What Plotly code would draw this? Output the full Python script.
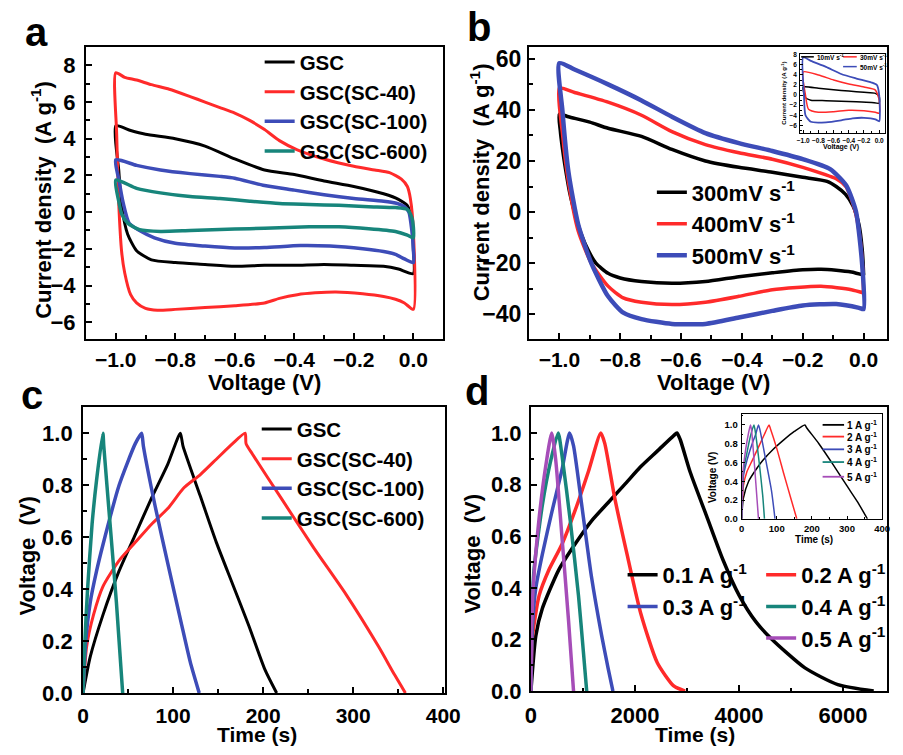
import plotly.graph_objects as go

F = "Liberation Sans, Arial, sans-serif"
BLACK = "#000000"
RED = "#ff2a2a"
BLUE = "#3d4cb8"
TEAL = "#17857b"
PURPLE = "#a64db8"

# ---------------- Panel a : CV of GSC samples ----------------
a_labels = ["GSC", "GSC(SC-40)", "GSC(SC-100)", "GSC(SC-600)"]
a_v_gsc = [-1.0, -0.95, -0.9, -0.8, -0.7, -0.6, -0.5, -0.4, -0.3, -0.2, -0.1, -0.05, -0.02, -0.005, 0.0,
           0.0, -0.05, -0.1, -0.2, -0.3, -0.4, -0.5, -0.6, -0.7, -0.8, -0.88, -0.93, -0.96, -0.98, -0.99, -1.0]
a_i_gsc = [4.7, 4.45, 4.25, 4.0, 3.6, 2.9, 2.3, 2.05, 1.7, 1.4, 1.0, 0.7, 0.35, -0.5, -2.0,
           -3.35, -3.1, -2.95, -2.9, -2.85, -2.9, -2.9, -2.95, -2.85, -2.75, -2.6, -2.1, -1.2, 0.3, 2.3, 4.7]
a_v_sc40 = [-1.0, -0.97, -0.93, -0.88, -0.82, -0.75, -0.7, -0.65, -0.6, -0.55, -0.5, -0.45, -0.39, -0.3, -0.2,
            -0.13, -0.08, -0.04, -0.02, -0.01, 0.0, 0.0, -0.03, -0.06, -0.1, -0.17, -0.26, -0.33, -0.39, -0.45,
            -0.5, -0.6, -0.7, -0.8, -0.86, -0.9, -0.93, -0.95, -0.97, -0.98, -0.99, -0.997, -1.0]
a_i_sc40 = [7.6, 7.35, 7.2, 6.95, 6.7, 6.3, 6.0, 5.7, 5.4, 5.0, 4.5, 3.9, 3.4, 2.9, 2.5,
            2.3, 2.15, 1.8, 1.4, 0.75, -1.0, -5.3, -4.95, -4.75, -4.6, -4.45, -4.35, -4.4, -4.5, -4.7,
            -4.95, -5.1, -5.2, -5.3, -5.35, -5.25, -4.95, -4.5, -3.3, -2.2, 0.5, 4.3, 7.6]
a_v_sc100 = [-1.0, -0.93, -0.85, -0.75, -0.65, -0.6, -0.5, -0.4, -0.3, -0.2, -0.1, -0.06, -0.03, -0.015, -0.005,
             0.0, 0.0, -0.03, -0.06, -0.1, -0.17, -0.28, -0.38, -0.5, -0.6, -0.7, -0.8, -0.87, -0.92, -0.955,
             -0.975, -0.99, -1.0]
a_i_sc100 = [2.85, 2.55, 2.3, 2.1, 1.95, 1.85, 1.45, 1.2, 0.95, 0.75, 0.6, 0.5, 0.3, 0.0, -1.0,
             -2.0, -2.75, -2.55, -2.3, -2.15, -2.0, -1.85, -1.82, -1.93, -1.95, -1.85, -1.7, -1.4, -1.0, -0.6,
             0.5, 1.8, 2.85]
a_v_sc600 = [-1.0, -0.93, -0.85, -0.75, -0.65, -0.55, -0.45, -0.35, -0.25, -0.15, -0.06, -0.02, -0.005, 0.0,
             0.0, -0.02, -0.06, -0.15, -0.25, -0.35, -0.45, -0.55, -0.65, -0.75, -0.85, -0.92, -0.96, -0.98,
             -0.99, -1.0]
a_i_sc600 = [1.75, 1.3, 1.05, 0.85, 0.75, 0.6, 0.47, 0.42, 0.37, 0.3, 0.25, 0.15, -0.3, -0.8,
             -1.4, -1.25, -1.05, -0.9, -0.8, -0.8, -0.85, -0.9, -0.95, -1.0, -1.05, -0.95, -0.6, -0.1,
             0.6, 1.75]

# ---------------- Panel b : CV at high scan rates ----------------
b_labels = ["300mV s<sup>-1</sup>", "400mV s<sup>-1</sup>", "500mV s<sup>-1</sup>"]
b_v_300 = [-1.0, -0.97, -0.9, -0.84, -0.73, -0.63, -0.52, -0.41, -0.3, -0.2, -0.12, -0.09, -0.06, -0.035,
           -0.015, -0.005, 0.0, 0.0, -0.04, -0.09, -0.14, -0.2, -0.3, -0.41, -0.52, -0.63, -0.73, -0.8, -0.84,
           -0.88, -0.905, -0.93, -0.948, -0.965, -0.98, -0.99, -0.997, -1.0]
b_i_300 = [38.3, 37.3, 35.2, 32.8, 29.6, 24.5, 20.0, 17.5, 15.6, 13.6, 12.0, 10.0, 7.0, 2.5,
           -5.0, -14.0, -24.0, -24.5, -23.5, -22.8, -22.4, -22.6, -23.8, -25.3, -27.2, -27.9, -27.2, -25.8, -24.0,
           -20.0, -15.0, -8.0, -1.0, 7.0, 17.0, 25.0, 32.0, 38.3]
b_v_400 = [-1.0, -0.95, -0.84, -0.73, -0.63, -0.52, -0.41, -0.3, -0.2, -0.09, -0.057, -0.04, -0.025, -0.01,
           -0.003, 0.0, 0.0, -0.04, -0.14, -0.3, -0.41, -0.52, -0.63, -0.73, -0.79, -0.84, -0.895, -0.938, -0.97,
           -0.99, -1.0]
b_i_400 = [48.5, 46.8, 43.0, 37.9, 31.5, 26.4, 23.2, 20.7, 17.5, 13.0, 9.8, 5.0, -1.0, -12.0,
           -22.0, -31.7, -31.7, -30.4, -29.1, -30.4, -33.0, -35.3, -36.2, -35.3, -33.6, -29.0, -20.0, -7.4, 11.7,
           31.0, 48.5]
b_v_500 = [-1.0, -0.95, -0.84, -0.73, -0.63, -0.52, -0.41, -0.3, -0.2, -0.11, -0.057, -0.025, -0.005, 0.0,
           -0.015, -0.09, -0.2, -0.3, -0.41, -0.52, -0.63, -0.73, -0.79, -0.84, -0.895, -0.938, -0.97, -0.99, -1.0]
b_i_500 = [58.3, 55.8, 50.0, 43.7, 37.3, 30.9, 27.0, 23.9, 20.7, 16.8, 10.4, 0.2, -20.0, -38.0,
           -37.5, -36.0, -36.6, -38.7, -41.3, -43.8, -43.8, -41.9, -39.4, -33.0, -20.0, -4.9, 15.6, 39.8, 58.3]

# inset of b : low scan rates
bi_labels = ["10mV s<sup>-1</sup>", "30mV s<sup>-1</sup>", "50mV s<sup>-1</sup>"]
bi_v_10 = [-1.0, -0.8, -0.6, -0.4, -0.2, -0.05, 0.0, 0.0, -0.1, -0.3, -0.5, -0.7, -0.9, -0.97, -1.0]
bi_i_10 = [1.6, 1.35, 1.05, 0.8, 0.55, 0.35, -0.3, -1.6, -1.45, -1.3, -1.2, -1.1, -1.0, -0.5, 1.6]
bi_v_30 = [-1.0, -0.8, -0.6, -0.4, -0.2, -0.05, 0.0, 0.0, -0.05, -0.2, -0.4, -0.6, -0.8, -0.93, -0.97, -1.0]
bi_i_30 = [4.6, 4.0, 3.0, 2.2, 1.6, 1.0, -1.0, -3.6, -3.4, -3.1, -3.0, -3.3, -3.4, -2.8, 0.0, 4.6]
bi_v_50 = [-1.0, -0.9, -0.7, -0.5, -0.3, -0.1, -0.03, 0.0, 0.0, -0.05, -0.2, -0.35, -0.5, -0.7, -0.9, -0.97,
           -0.99, -1.0]
bi_i_50 = [7.5, 6.8, 5.6, 4.2, 3.3, 2.5, 2.0, 0.0, -5.2, -4.8, -4.5, -4.6, -5.0, -5.4, -5.3, -4.0, 0.0, 7.5]

# ---------------- Panel c : GCD of GSC samples ----------------
c_t_gsc = [0, 8, 22, 40, 58, 76, 94, 108, 111, 130, 148, 166, 184, 202, 215]
c_u_gsc = [0.0, 0.14, 0.3, 0.47, 0.61, 0.75, 0.88, 1.0, 0.95, 0.76, 0.58, 0.42, 0.26, 0.09, 0.0]
c_t_sc40 = [0, 4, 11.5, 22, 40, 58, 76, 94, 112, 130, 148, 166, 180, 181, 188, 220, 256, 292, 328, 346, 358]
c_u_sc40 = [0.0, 0.18, 0.3, 0.41, 0.51, 0.58, 0.65, 0.71, 0.79, 0.84, 0.9, 0.96, 1.0, 0.96, 0.92, 0.75, 0.56,
            0.38, 0.18, 0.07, 0.0]
c_t_sc100 = [0, 3, 8, 15, 22, 40, 58, 65, 67, 80, 94, 109, 119, 129]
c_u_sc100 = [0.0, 0.2, 0.35, 0.47, 0.57, 0.8, 0.96, 1.0, 0.95, 0.72, 0.5, 0.27, 0.12, 0.0]
c_t_sc600 = [0, 2, 5, 10, 15, 22, 23, 30, 37, 44]
c_u_sc600 = [0.0, 0.2, 0.4, 0.65, 0.82, 1.0, 0.95, 0.65, 0.35, 0.0]

# ---------------- Panel d : GCD at different current densities ----------------
d_labels = ["0.1 A g<sup>-1</sup>", "0.2 A g<sup>-1</sup>", "0.3 A g<sup>-1</sup>",
            "0.4 A g<sup>-1</sup>", "0.5 A g<sup>-1</sup>"]
d_t_01 = [0, 95, 220, 536, 850, 1167, 1483, 1800, 2114, 2430, 2745, 2808, 2870, 3060, 3375, 3690, 4006,
          4320, 4637, 5268, 5900, 6590]
d_u_01 = [0.0, 0.215, 0.32, 0.47, 0.57, 0.66, 0.73, 0.8, 0.87, 0.93, 0.99, 1.0, 0.975, 0.85, 0.68, 0.51, 0.37,
          0.27, 0.2, 0.09, 0.025, 0.0]
d_t_02 = [0, 30, 158, 347, 600, 850, 1104, 1344, 1420, 1610, 1860, 2114, 2430, 2745, 2965]
d_u_02 = [0.0, 0.21, 0.37, 0.47, 0.57, 0.7, 0.85, 1.0, 0.96, 0.75, 0.52, 0.3, 0.11, 0.02, 0.0]
d_t_03 = [0, 30, 95, 220, 410, 600, 744, 820, 978, 1167, 1356, 1483, 1577]
d_u_03 = [0.0, 0.25, 0.4, 0.53, 0.7, 0.86, 1.0, 0.95, 0.72, 0.44, 0.22, 0.09, 0.0]
d_t_04 = [0, 20, 60, 220, 378, 524, 600, 757, 915, 1010, 1073]
d_u_04 = [0.0, 0.3, 0.47, 0.72, 0.89, 1.0, 0.91, 0.66, 0.37, 0.15, 0.0]
d_t_05 = [0, 15, 44, 158, 284, 400, 475, 600, 725, 820]
d_u_05 = [0.0, 0.25, 0.4, 0.67, 0.87, 1.0, 0.9, 0.59, 0.27, 0.0]

# inset of d : 1-5 A g-1
di_labels = ["1 A g<sup>-1</sup>", "2 A g<sup>-1</sup>", "3 A g<sup>-1</sup>",
             "4 A g<sup>-1</sup>", "5 A g<sup>-1</sup>"]
di_t_1 = [0, 5, 20, 40, 60, 90, 120, 150, 180, 185, 220, 260, 300, 330, 358]
di_u_1 = [0.0, 0.22, 0.4, 0.52, 0.62, 0.74, 0.84, 0.93, 1.0, 0.97, 0.8, 0.58, 0.35, 0.18, 0.0]
di_t_2 = [0, 5, 15, 30, 50, 65, 78, 82, 100, 120, 140, 157]
di_u_2 = [0.0, 0.35, 0.5, 0.62, 0.78, 0.9, 1.0, 0.96, 0.75, 0.48, 0.22, 0.0]
di_t_3 = [0, 5, 15, 30, 40, 48, 52, 70, 85, 95]
di_u_3 = [0.0, 0.45, 0.62, 0.8, 0.9, 1.0, 0.95, 0.6, 0.3, 0.0]
di_t_4 = [0, 5, 15, 25, 35, 38, 50, 60, 65]
di_u_4 = [0.0, 0.5, 0.7, 0.88, 1.0, 0.95, 0.6, 0.25, 0.0]
di_t_5 = [0, 4, 12, 20, 25, 28, 37, 44, 48]
di_u_5 = [0.0, 0.5, 0.75, 0.92, 1.0, 0.95, 0.55, 0.2, 0.0]

W, H = 903, 755


def px(x):
    return x / W


def py(y):
    return 1 - y / H


fig = go.Figure()


def add(x, y, name, color, xa, ya, legend, width=3.0, showlegend=True):
    fig.add_trace(go.Scatter(x=x, y=y, name=name, mode="lines",
                             line=dict(color=color, width=width, shape="spline", smoothing=0.6),
                             xaxis=xa, yaxis=ya, legend=legend, showlegend=showlegend))


# panel a
add(a_v_gsc, a_i_gsc, a_labels[0], BLACK, "x", "y", "legend", 3)
add(a_v_sc40, a_i_sc40, a_labels[1], RED, "x", "y", "legend", 3)
add(a_v_sc100, a_i_sc100, a_labels[2], BLUE, "x", "y", "legend", 3.5)
add(a_v_sc600, a_i_sc600, a_labels[3], TEAL, "x", "y", "legend", 3.5)
# panel b
add(b_v_300, b_i_300, b_labels[0], BLACK, "x2", "y2", "legend2", 3.5)
add(b_v_400, b_i_400, b_labels[1], RED, "x2", "y2", "legend2", 3.5)
add(b_v_500, b_i_500, b_labels[2], BLUE, "x2", "y2", "legend2", 4.5)
# inset b (legend drawn as small key below)
bi_colors = [BLACK, RED, BLUE]
add(bi_v_10, bi_i_10, bi_labels[0], bi_colors[0], "x5", "y5", "legend", 1.5, False)
add(bi_v_30, bi_i_30, bi_labels[1], bi_colors[1], "x5", "y5", "legend", 1.5, False)
add(bi_v_50, bi_i_50, bi_labels[2], bi_colors[2], "x5", "y5", "legend", 1.8, False)
# panel c
add(c_t_gsc, c_u_gsc, a_labels[0], BLACK, "x3", "y3", "legend3", 3)
add(c_t_sc40, c_u_sc40, a_labels[1], RED, "x3", "y3", "legend3", 3)
add(c_t_sc100, c_u_sc100, a_labels[2], BLUE, "x3", "y3", "legend3", 3.5)
add(c_t_sc600, c_u_sc600, a_labels[3], TEAL, "x3", "y3", "legend3", 3.5)
# panel d
add(d_t_01, d_u_01, d_labels[0], BLACK, "x4", "y4", "legend4", 3.5)
add(d_t_02, d_u_02, d_labels[1], RED, "x4", "y4", "legend5", 3.5)
add(d_t_03, d_u_03, d_labels[2], BLUE, "x4", "y4", "legend4", 3.5)
add(d_t_04, d_u_04, d_labels[3], TEAL, "x4", "y4", "legend5", 3.5)
add(d_t_05, d_u_05, d_labels[4], PURPLE, "x4", "y4", "legend5", 3.5)
# inset d (legend drawn as small key below)
di_colors = [BLACK, RED, BLUE, TEAL, PURPLE]
add(di_t_1, di_u_1, di_labels[0], di_colors[0], "x6", "y6", "legend", 1.5, False)
add(di_t_2, di_u_2, di_labels[1], di_colors[1], "x6", "y6", "legend", 1.5, False)
add(di_t_3, di_u_3, di_labels[2], di_colors[2], "x6", "y6", "legend", 1.5, False)
add(di_t_4, di_u_4, di_labels[3], di_colors[3], "x6", "y6", "legend", 1.5, False)
add(di_t_5, di_u_5, di_labels[4], di_colors[4], "x6", "y6", "legend", 1.5, False)


def axis(domain, rng, dtick, minor_dtick, anchor, fs=21, lw=2, tl=6, stand=6, fmt=None):
    d = dict(domain=domain, range=rng, dtick=dtick, tick0=0, anchor=anchor,
             showline=True, linecolor="black", linewidth=lw, mirror=True,
             ticks="inside", ticklen=tl, tickwidth=lw, tickcolor="black",
             showgrid=False, zeroline=False, ticklabelstandoff=stand, tickangle=0,
             tickfont=dict(family=F, size=fs, color="black", weight="bold"),
             minor=dict(ticks="inside", ticklen=tl * 0.6, tickwidth=lw * 0.8, tickcolor="black",
                        dtick=minor_dtick, showgrid=False))
    if fmt:
        d["tickformat"] = fmt
    return d


fig.update_layout(
    width=W, height=H, margin=dict(l=0, r=0, t=0, b=0),
    paper_bgcolor="white", plot_bgcolor="rgba(0,0,0,0)",
    font=dict(family=F, color="black", weight="bold"),
    xaxis=axis([px(82), px(448)], [-1.1, 0.1], 0.2, 0.1, "y", fs=21, stand=1, fmt=".1f"),
    yaxis=axis([py(343), py(45)], [-6.9, 9.0], 2, 1, "x", fs=22, stand=4),
    xaxis2=axis([px(536), 1.0], [-1.1, 0.077], 0.2, 0.1, "y2", fs=21, stand=1, fmt=".1f"),
    yaxis2=axis([py(343), py(45)], [-49.6, 64.6], 20, 10, "x2", fs=23, stand=1),
    xaxis3=axis([px(79), px(450)], [0, 402], 100, 50, "y3", fs=21, stand=3),
    yaxis3=axis([py(705), py(413)], [0, 1.1], 0.2, 0.1, "x3", fs=22, stand=4, fmt=".1f"),
    xaxis4=axis([px(538), 1.0], [0, 6846], 2000, 1000, "y4", fs=22, stand=3),
    yaxis4=axis([py(703), py(413)], [0, 1.1], 0.2, 0.1, "x4", fs=22, stand=3, fmt=".1f"),
    xaxis5=axis([px(814), px(901)], [-1.04, 0.077], 0.2, 0.1, "y5", fs=6.5, lw=1, tl=3, stand=1, fmt=".1f"),
    yaxis5=axis([py(133), py(52)], [-7.56, 8.19], 2, 1, "x5", fs=6.5, lw=1, tl=3, stand=1),
    xaxis6=axis([px(754), px(898)], [0, 400], 100, 50, "y6", fs=9.5, lw=1, tl=3, stand=1),
    yaxis6=axis([py(527), py(420)], [0, 1.115], 0.2, 0.1, "x6", fs=9.5, lw=1, tl=3, stand=1, fmt=".1f"),
)

leg_common = dict(bgcolor="rgba(0,0,0,0)", borderwidth=0, xanchor="left", yanchor="top",
                  orientation="v", tracegroupgap=0, itemclick=False)
fig.update_layout(
    legend=dict(x=px(260), y=py(40), font=dict(family=F, size=20.5, weight="bold"), **leg_common),
    legend2=dict(x=px(662), y=py(172), font=dict(family=F, size=22, weight="bold"), **leg_common),
    legend3=dict(x=px(257), y=py(415), font=dict(family=F, size=20.5, weight="bold"), **leg_common),
    legend4=dict(x=px(632), y=py(563), font=dict(family=F, size=22, weight="bold"), **leg_common),
    legend5=dict(x=px(774), y=py(563), font=dict(family=F, size=22, weight="bold"), **leg_common),
)

ann = []
shapes = []


def text(x, y, s, size, angle=0, anchor="center"):
    ann.append(dict(x=px(x), y=py(y), xref="paper", yref="paper", text=s, showarrow=False,
                    textangle=angle, xanchor=anchor, yanchor="middle",
                    font=dict(family=F, size=size, color="black", weight="bold")))


def key(x0, x1, y, color, label, size, lw):
    shapes.append(dict(type="line", xref="paper", yref="paper", x0=px(x0), x1=px(x1), y0=py(y), y1=py(y),
                       line=dict(color=color, width=lw)))
    text(x1 + 1, y, label, size, anchor="left")


# inset keys
key(815, 828, 55, bi_colors[0], bi_labels[0], 6.5, 1.5)
key(858, 872, 55, bi_colors[1], bi_labels[1], 6.5, 1.5)
key(858, 872, 65, bi_colors[2], bi_labels[2], 6.5, 1.5)
for k, yy in enumerate([431, 443, 456, 469, 484]):
    key(837, 859, yy, di_colors[k], di_labels[k], 10, 1.8)

# panel letters
text(31, 30, "a", 40)
text(485, 25, "b", 40)
text(27, 400, "c", 40)
text(483, 396, "d", 40)
# axis titles
text(36, 201, "Current density  (A g<sup>-1</sup>)", 22, -90)
text(486, 183, "Current density  (A g<sup>-1</sup>)", 22, -90)
text(265, 388, "Voltage (V)", 22)
text(725, 388, "Voltage (V)", 22)
text(22, 565, "Voltage  (V)", 22, -90)
text(478, 563, "Voltage  (V)", 22, -90)
text(257, 747, "Time (s)", 21)
text(706, 747, "Time (s)", 21)
# inset titles
text(797, 92, "Current density (A g<sup>-1</sup>)", 6, -90)
text(856, 147, "Voltage (V)", 7)
text(724, 485, "Voltage (V)", 10, -90)
text(828, 548, "Time (s)", 10)

fig.update_layout(annotations=ann, shapes=shapes)
fig.write_html("out.html", config={"displayModeBar": False},
               post_script="document.body.style.margin='0';")
